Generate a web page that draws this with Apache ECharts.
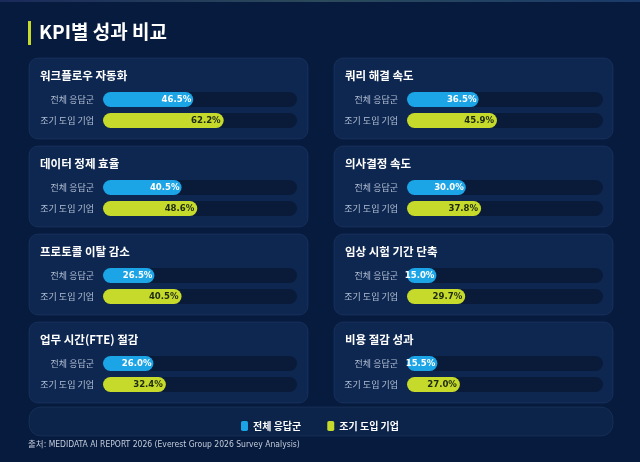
<!DOCTYPE html>
<html><head><meta charset="utf-8">
<script src="https://cdn.jsdelivr.net/npm/echarts@6/dist/echarts.min.js"></script>
<style>html,body{margin:0;padding:0;background:#061b3e;}#c{width:640px;height:462px;}</style>
</head><body><div id="c"></div>
<script>
const kpiTitles = ['워크플로우 자동화','데이터 정제 효율','프로토콜 이탈 감소','업무 시간(FTE) 절감','쿼리 해결 속도','의사결정 속도','임상 시험 기간 단축','비용 절감 성과'];
const groups = ['전체 응답군','조기 도입 기업'];
const allResp = [46.5, 40.5, 26.5, 26.0, 36.5, 30.0, 15.0, 15.5];
const early = [62.2, 48.6, 40.5, 32.4, 45.9, 37.8, 29.7, 27.0];
const mainTitle = 'KPI별 성과 비교';
const sourceText = '출처: MEDIDATA AI REPORT 2026 (Everest Group 2026 Survey Analysis)';

const FONT = 'Noto Sans CJK KR';
const NARROW = '"DejaVu Sans Condensed", "Noto Sans CJK KR"';
const BLUE = '#1ba4e6', LIME = '#c6da2b';
const colX = [29, 334], colW = [279, 279];
const gridL = [103, 407], gridW = [194, 196];
const rowTop = [58, 146, 234, 322];

const chart = echarts.init(document.getElementById('c'));
const grids = [], xAxes = [], yAxes = [], series = [], titles = [], graphics = [];

graphics.push({type:'rect', shape:{x:0,y:0,width:640,height:2}, style:{fill:new echarts.graphic.LinearGradient(0,0,1,0,[{offset:0,color:'#1a2a5a'},{offset:0.5,color:'#2b4a5a'},{offset:1,color:'#1a3a6a'}])}, z:-10});
graphics.push({type:'rect', shape:{x:28,y:21,width:3,height:24}, style:{fill:LIME}});
titles.push({text: mainTitle, left: 39, top: 22, padding:0, textStyle:{color:'#ffffff', fontSize:19, fontWeight:'bold', fontFamily:FONT}});

const fmt = p => Number(p.value).toFixed(1) + '%';

kpiTitles.forEach((t, i) => {
  const col = i < 4 ? 0 : 1, row = i % 4;
  const pt = rowTop[row];
  graphics.push({type:'rect', z:-5, shape:{x:colX[col], y:pt, width:colW[col], height:81, r:9},
    style:{fill:'#0e2751', stroke:'rgba(120,150,200,0.12)', lineWidth:1}});
  titles.push({text:t, left: colX[col] + 11, top: pt + 12, padding:0, textStyle:{color:'#ffffff', fontSize:11.5, fontWeight:'bold', fontFamily:FONT}});
  grids.push({left: gridL[col], top: pt + 31, width: gridW[col], height: 42});
  xAxes.push({type:'value', gridIndex:i, min:0, max:100, show:false});
  yAxes.push({type:'category', gridIndex:i, data:groups, inverse:true,
    axisLine:{show:false}, axisTick:{show:false}, splitLine:{show:false},
    axisLabel:{color:'#b3bfd3', fontSize:9, margin:9, fontFamily:FONT}});
  series.push({type:'bar', name:groups[0], xAxisIndex:i, yAxisIndex:i, barWidth:15, barGap:'-100%',
    data:[allResp[i], '-'], itemStyle:{color:BLUE, borderRadius:8},
    showBackground:true, backgroundStyle:{color:'#0a1b3a', borderRadius:8},
    label:{show:true, position:'insideRight', distance:2, color:'#ffffff', fontSize:9.5, fontWeight:'bold', fontFamily:NARROW, formatter:fmt}});
  series.push({type:'bar', name:groups[1], xAxisIndex:i, yAxisIndex:i, barWidth:15, barGap:'-100%',
    data:['-', early[i]], itemStyle:{color:LIME, borderRadius:8},
    label:{show:true, position:'insideRight', distance:3, color:'#1d2a12', fontSize:9.5, fontWeight:'bold', fontFamily:NARROW, formatter:fmt}});
});

graphics.push({type:'rect', z:-5, shape:{x:29, y:407, width:584, height:29, r:12},
  style:{fill:'#0c2449', stroke:'rgba(120,150,200,0.12)', lineWidth:1}});
graphics.push({type:'text', left:28, top:441, style:{text:sourceText, fill:'#c3cbda', fontSize:8.5, fontFamily:NARROW}});

chart.setOption({
  backgroundColor:'#061b3e',
  animation:false,
  title: titles,
  grid: grids, xAxis: xAxes, yAxis: yAxes, series: series,
  legend: {data: groups, left:322, top:416, itemWidth:7, itemHeight:10, itemGap:26, icon:'roundRect',
    textStyle:{color:'#ffffff', fontSize:10, fontWeight:'bold', fontFamily:FONT}},
  graphic: graphics
});
chart.setOption({legend:{left:'center'}});
</script></body></html>
